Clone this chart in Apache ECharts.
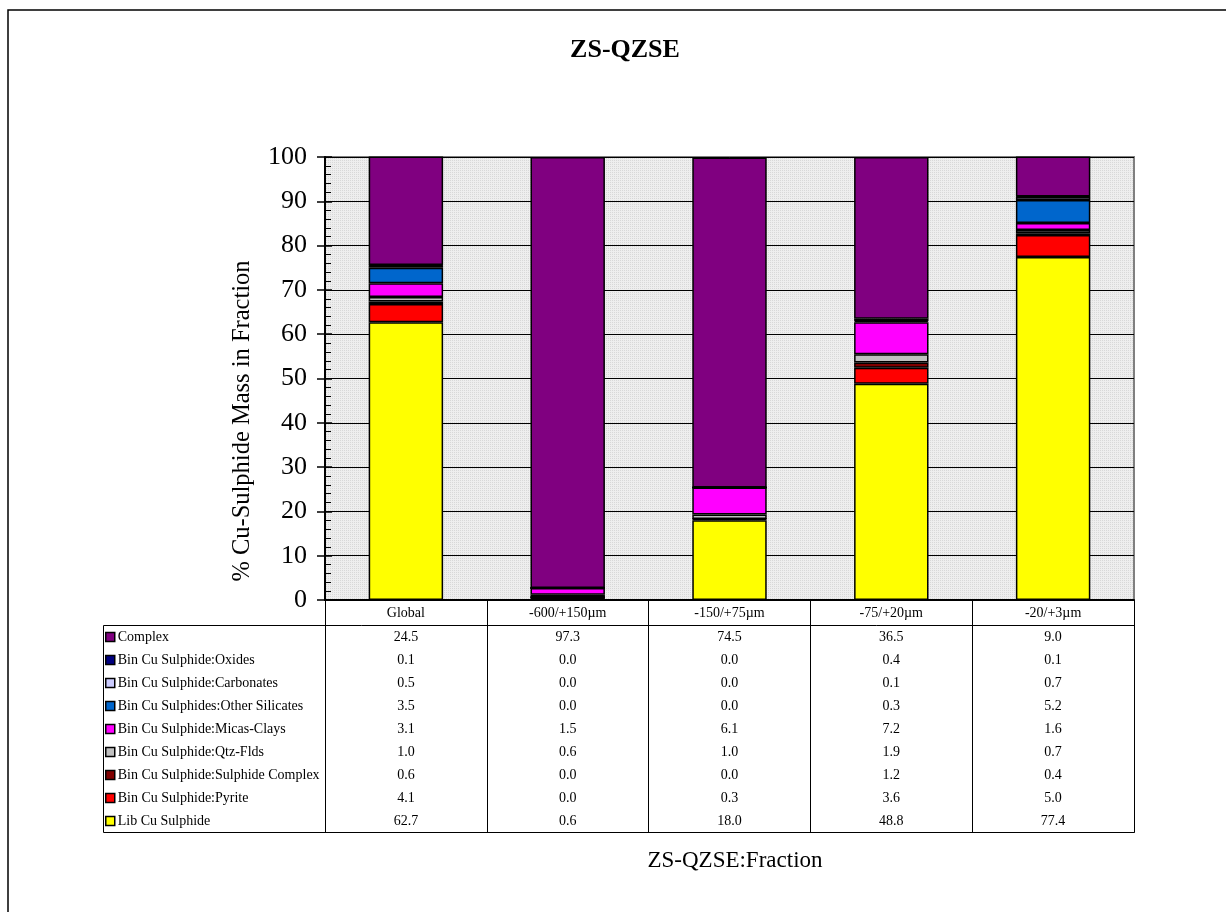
<!DOCTYPE html>
<html>
<head>
<meta charset="utf-8">
<script src="https://cdn.jsdelivr.net/npm/echarts@6/dist/echarts.min.js"></script>
<style>
html,body{margin:0;padding:0;background:#fff;}
#chart{width:1226px;height:912px;}
</style>
</head>
<body>
<div id="chart"></div>
<script>
// ---- DATA ----
var categories = ['Global', '-600/+150µm', '-150/+75µm', '-75/+20µm', '-20/+3µm'];
var yTicks = [0, 10, 20, 30, 40, 50, 60, 70, 80, 90, 100];

// series listed top of table first (Complex) to bottom (Lib Cu Sulphide)
var seriesNames = [
  'Complex',
  'Bin Cu Sulphide:Oxides',
  'Bin Cu Sulphide:Carbonates',
  'Bin Cu Sulphides:Other Silicates',
  'Bin Cu Sulphide:Micas-Clays',
  'Bin Cu Sulphide:Qtz-Flds',
  'Bin Cu Sulphide:Sulphide Complex',
  'Bin Cu Sulphide:Pyrite',
  'Lib Cu Sulphide'
];
var complexVals         = [24.5, 97.3, 74.5, 36.5, 9.0];
var oxidesVals          = [0.1, 0.0, 0.0, 0.4, 0.1];
var carbonatesVals      = [0.5, 0.0, 0.0, 0.1, 0.7];
var otherSilicatesVals  = [3.5, 0.0, 0.0, 0.3, 5.2];
var micasClaysVals      = [3.1, 1.5, 6.1, 7.2, 1.6];
var qtzFldsVals         = [1.0, 0.6, 1.0, 1.9, 0.7];
var sulphideComplexVals = [0.6, 0.0, 0.0, 1.2, 0.4];
var pyriteVals          = [4.1, 0.0, 0.3, 3.6, 5.0];
var libVals             = [62.7, 0.6, 18.0, 48.8, 77.4];

var seriesValues = [complexVals, oxidesVals, carbonatesVals, otherSilicatesVals,
  micasClaysVals, qtzFldsVals, sulphideComplexVals, pyriteVals, libVals];
var seriesColors = ['#800080', '#000080', '#CCCCFF', '#0066CC', '#FF00FF',
  '#C0C0C0', '#800000', '#FF0000', '#FFFF00'];

var chartTitle = 'ZS-QZSE';
var xTitle = 'ZS-QZSE:Fraction';
var yTitle = '% Cu-Sulphide Mass in Fraction';

// ---- CHART ----
var SERIF = '"Liberation Serif", "Times New Roman", serif';
var chart = echarts.init(document.getElementById('chart'), null, {renderer: 'canvas'});

// dotted grey background pattern
var pc = document.createElement('canvas');
pc.width = 2; pc.height = 2;
var pctx = pc.getContext('2d');
pctx.fillStyle = '#eeeeee'; pctx.fillRect(0, 0, 2, 2);
pctx.fillStyle = '#d8d8d8'; pctx.fillRect(0, 0, 1, 1);

var ROW0 = 37, ROWH = 23, TFS = 14;
var xAxes = [{
  type: 'category', data: categories, gridIndex: 0, position: 'bottom',
  axisLine: {show: true, lineStyle: {color: '#000', width: 2}},
  axisTick: {show: false},
  axisLabel: {margin: 13, verticalAlign: 'middle', fontFamily: SERIF, fontSize: TFS, color: '#000', interval: 0},
  splitLine: {show: false}
}];
// one axis per table row
seriesNames.forEach(function (name, i) {
  var vals = seriesValues[i];
  xAxes.push({
    type: 'category', data: categories, gridIndex: 0, position: 'bottom',
    offset: ROW0 + ROWH * i,
    axisLine: {show: false}, axisTick: {show: false}, splitLine: {show: false},
    axisLabel: {
      margin: 0, verticalAlign: 'middle', interval: 0,
      fontFamily: SERIF, fontSize: TFS, color: '#000',
      formatter: function (v, idx) { return vals[idx].toFixed(1); }
    }
  });
});
// table grid column lines
xAxes.push({
  type: 'category', data: categories, gridIndex: 1, position: 'bottom',
  axisLine: {show: true, lineStyle: {color: '#000', width: 1}},
  axisTick: {show: false}, axisLabel: {show: false},
  splitLine: {show: true, lineStyle: {color: '#000', width: 1}}
});

var series = [];
for (var k = seriesNames.length - 1; k >= 0; k--) {
  series.push({
    name: seriesNames[k], type: 'bar', stack: 'total',
    xAxisIndex: 0, yAxisIndex: 0,
    barWidth: '46%',
    data: seriesValues[k],
    itemStyle: {color: seriesColors[k], borderColor: '#000', borderWidth: 1.5},
    emphasis: {disabled: true}
  });
}

var option = {
  animation: false,
  backgroundColor: '#fff',
  title: [{
    text: chartTitle, left: 620, top: 32, textAlign: 'center',
    textStyle: {fontFamily: SERIF, fontWeight: 'bold', fontSize: 26, color: '#000'}
  }, {
    text: xTitle, left: 730, top: 844, textAlign: 'center',
    textStyle: {fontFamily: SERIF, fontWeight: 'normal', fontSize: 23, color: '#000'}
  }],
  legend: {
    orient: 'vertical', left: 105, top: 630, padding: 0,
    data: seriesNames.slice(),
    itemWidth: 9, itemHeight: 9, itemGap: 9,
    icon: 'rect',
    selectedMode: false,
    itemStyle: {borderColor: '#000', borderWidth: 1.5},
    textStyle: {fontFamily: SERIF, fontSize: TFS, color: '#000', lineHeight: 14, padding: [0, 0, 0, -2]}
  },
  grid: [{
    left: 325, right: 92, top: 157, bottom: 312,
    show: true, backgroundColor: {image: pc, repeat: 'repeat'},
    borderColor: '#808080', borderWidth: 2
  }, {
    left: 325, right: 92, top: 600, height: 232, show: false
  }],
  xAxis: xAxes,
  yAxis: [{
    type: 'value', gridIndex: 0, min: 0, max: 100, interval: 10,
    axisLine: {show: true, lineStyle: {color: '#000', width: 2}},
    axisTick: {show: true, inside: false, length: 8, lineStyle: {color: '#000', width: 1.5}},
    axisLabel: {margin: 18, fontFamily: SERIF, fontSize: 26, color: '#000',
      formatter: function (v) { return yTicks.indexOf(v) >= 0 ? String(v) : ''; }},
    splitLine: {show: true, lineStyle: {color: '#000', width: 1}}
  }, {
    type: 'value', gridIndex: 0, min: 0, max: 100, interval: 10, position: 'left',
    axisLine: {show: false},
    axisTick: {show: true, inside: true, length: 7, lineStyle: {color: '#000', width: 1.5}},
    minorTick: {show: true, splitNumber: 5, length: 6, lineStyle: {color: '#000', width: 1}},
    axisLabel: {show: false}, splitLine: {show: false}
  }, {
    type: 'value', gridIndex: 1, show: false
  }],
  graphic: [{
    type: 'rect', silent: true,
    shape: {x: 8, y: 10, width: 1240, height: 920},
    style: {fill: 'none', stroke: '#000', lineWidth: 1.5}, z: -10
  }, {
    type: 'rect', silent: true,
    shape: {x: 103.5, y: 625.5, width: 1031, height: 207},
    style: {fill: 'none', stroke: '#000', lineWidth: 1}
  }, {
    type: 'text', silent: true, x: 243, y: 421, rotation: Math.PI / 2,
    style: {text: yTitle, fontFamily: SERIF, fontSize: 24.5, fill: '#000', align: 'center', verticalAlign: 'middle'}
  }],
  series: series
};
chart.setOption(option);
</script>
</body>
</html>
